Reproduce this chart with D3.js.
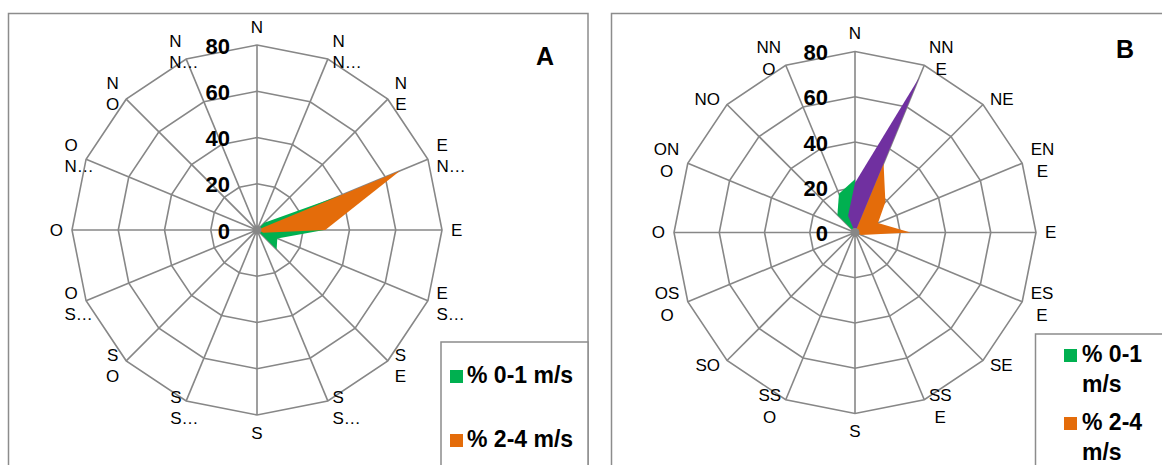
<!DOCTYPE html>
<html><head><meta charset="utf-8">
<script src="https://cdn.jsdelivr.net/npm/d3@7"></script>
<style>html,body{margin:0;padding:0;background:#fff;overflow:hidden}</style>
</head><body>
<svg id="c" width="1162" height="465"></svg>
<script>
// ---- data ----
const directionsA = ["N","N\nN…","N\nE","E\nN…","E","E\nS…","S\nE","S\nS…","S","S\nS…","S\nO","O\nS…","O","O\nN…","N\nO","N\nN…"];
const directionsB = ["N","NN\nE","NE","EN\nE","E","ES\nE","SE","SS\nE","S","SS\nO","SO","OS\nO","O","ON\nO","NO","NN\nO"];
const radialTicks = [0,20,40,60,80];
const seriesNames = ["% 0-1 m/s","% 2-4 m/s"];
const panelTitles = ["A","B"];
const speedA01 = [0,0,4.5,39,29,9.5,12,0,0,0,0,0,0,0,0,0];
const speedA24 = [0,0,0,67,29.5,3,0,0,0,0,0,0,0,0,0,0];
const speedB01 = [23.5,0,0,0,0,0,0,0,0,0,0,0,0,0,11,18.5];
const speedB24 = [0,33,19,11,24.5,3,0,0,0,0,0,0,0,0,0,0];
const speedB4p = [22,74,0,0,0,0,0,0,0,0,0,0,0,0,0,8];
const seriesColors = ["#00B050","#E46C0A","#7030A0"];

const svg = d3.select("#c");
const FONT = "'Liberation Sans', Arial, Helvetica, sans-serif";
const GRID = "#878787";

function drawPanel(cfg) {
  const n = cfg.labels.length;
  const angle = d3.scaleLinear().domain([0, n]).range([0, 2 * Math.PI]);
  const r = d3.scaleLinear().domain([0, 80]).range([0, cfg.R]);

  // panel border
  svg.append("rect").attr("x", cfg.box[0]).attr("y", cfg.box[1])
    .attr("width", cfg.box[2]).attr("height", cfg.box[3])
    .attr("fill", "none").attr("stroke", "#8c8c8c").attr("stroke-width", 1.5);

  const g = svg.append("g").attr("transform", `translate(${cfg.cx},${cfg.cy})`);
  const idx = d3.range(n);

  // rings
  const ringLine = d3.lineRadial().angle((d, i) => angle(i)).radius(d => r(d)).curve(d3.curveLinearClosed);
  radialTicks.filter(t => t > 0).forEach(t => {
    g.append("path").attr("d", ringLine(idx.map(() => t)))
      .attr("fill", "none").attr("stroke", GRID).attr("stroke-width", 1.6);
  });
  // spokes
  idx.forEach(i => {
    const p = d3.pointRadial(angle(i), r(80));
    g.append("line").attr("x1", 0).attr("y1", 0).attr("x2", p[0]).attr("y2", p[1])
      .attr("stroke", GRID).attr("stroke-width", 1.6);
  });

  // series
  const areaLine = d3.lineRadial().angle((d, i) => angle(i)).radius(d => r(d)).curve(d3.curveLinearClosed);
  cfg.series.forEach((s, k) => {
    g.append("path").attr("d", areaLine(s)).attr("fill", seriesColors[k]).attr("stroke", "none");
  });
  g.append("circle").attr("r", 4.5).attr("fill", GRID);

  // radial tick labels
  radialTicks.forEach(t => {
    g.append("text").attr("x", -27).attr("y", -r(t) + 1)
      .attr("text-anchor", "end").attr("dominant-baseline", "central")
      .attr("font-family", FONT).attr("font-weight", "bold").attr("font-size", 22)
      .attr("fill", "#000").text(t);
  });

  // direction labels
  cfg.labels.forEach((lab, i) => {
    const a = angle(i), s = Math.sin(a), c = Math.cos(a);
    const [vx, vy] = d3.pointRadial(a, r(80));
    const lines = lab.split("\n");
    const texts = lines.map(t => g.append("text").attr("font-family", FONT)
      .attr("font-size", 17).attr("fill", "#000").attr("dominant-baseline", "central").text(t));
    const widths = texts.map(t => t.node().getComputedTextLength());
    const plain = widths.filter((w, k) => !lines[k].endsWith("…"));
    const blockW = plain.length ? d3.max(plain) : d3.max(widths);
    let left;
    const gap = 2 + 7 * Math.abs(s);
    if (Math.abs(s) < 0.1) left = vx - blockW / 2;
    else if (s > 0) left = vx + gap;
    else left = vx - gap - blockW;
    const cyB = Math.abs(s) < 0.1 ? vy - c * 18 : vy - c * 7.5;
    texts.forEach((t, k) => {
      const y = cyB + (k - (lines.length - 1) / 2) * cfg.lineH;
      if (lines[k].endsWith("…")) t.attr("x", left).attr("text-anchor", "start");
      else t.attr("x", left + blockW / 2).attr("text-anchor", "middle");
      t.attr("y", y);
    });
  });

  // title
  svg.append("text").attr("x", cfg.title[0]).attr("y", cfg.title[1])
    .attr("text-anchor", "middle").attr("font-family", FONT).attr("font-weight", "bold")
    .attr("font-size", 25).text(cfg.titleText);

  // legend
  const L = cfg.legend;
  svg.append("rect").attr("x", L.box[0]).attr("y", L.box[1]).attr("width", L.box[2]).attr("height", L.box[3])
    .attr("fill", "#fff").attr("stroke", "#8c8c8c").attr("stroke-width", 1.5);
  seriesNames.forEach((name, k) => {
    const base = L.y0 + k * L.step;
    svg.append("rect").attr("x", L.sx).attr("y", base - 13).attr("width", 13).attr("height", 13)
      .attr("fill", seriesColors[k]);
    const parts = L.wrap ? [name.replace(/ m\/s$/, ""), "m/s"] : [name];
    parts.forEach((p, j) => {
      svg.append("text").attr("x", L.tx).attr("y", base + j * L.wrapH)
        .attr("font-family", FONT).attr("font-weight", "bold").attr("font-size", 23)
        .attr("fill", "#000").text(p);
    });
  });
}

drawPanel({
  cx: 257, cy: 230, R: 185, lineH: 21,
  box: [8.5, 13.5, 579.5, 520],
  labels: directionsA, series: [speedA01, speedA24],
  title: [545, 65], titleText: panelTitles[0],
  legend: { box: [441, 342, 147, 200], sx: 450, tx: 467, y0: 383, step: 64, wrap: false, wrapH: 0 }
});
drawPanel({
  cx: 855, cy: 232.5, R: 181, lineH: 22,
  box: [611.5, 13.5, 620, 520],
  labels: directionsB, series: [speedB01, speedB24, speedB4p],
  title: [1125, 58], titleText: panelTitles[1],
  legend: { box: [1035.5, 334, 200, 200], sx: 1064, tx: 1082, y0: 362, step: 68, wrap: true, wrapH: 29.5 }
});
</script>
</body></html>
